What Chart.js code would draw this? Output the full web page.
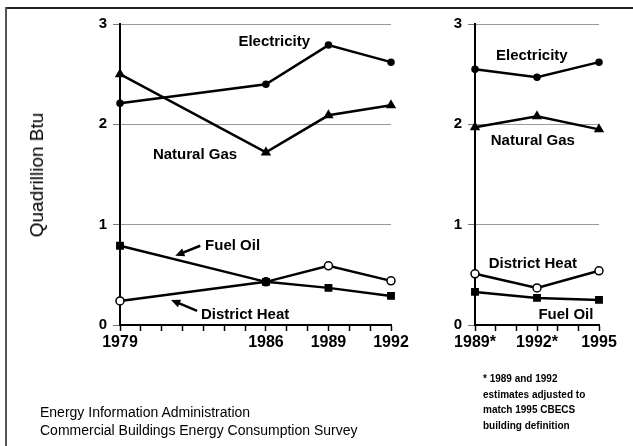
<!DOCTYPE html>
<html>
<head>
<meta charset="utf-8">
<script src="https://cdn.jsdelivr.net/npm/chart.js@4.4.1/dist/chart.umd.min.js"></script>
<style>
  body { margin:0; background:#fff; font-family:"Liberation Sans", Arial, sans-serif; }
  #page { position:relative; width:633px; height:446px; overflow:hidden; background:#fff; }
  .cv { position:absolute; left:0; top:0; }
  #frameTop { position:absolute; left:5px; top:7px; width:628px; height:0; border-top:2px solid #222; }
  #frameLeft { position:absolute; left:5px; top:7px; width:0; height:439px; border-left:2px solid #555; }
  #ytitle { position:absolute; left:37px; top:175px; transform:translate(-50%,-50%) rotate(-90deg); font-size:19px; white-space:nowrap; color:#000; }
  .foot { position:absolute; left:40px; font-size:14px; color:#000; white-space:nowrap; }
  #note { position:absolute; left:483px; top:371px; font-size:10px; line-height:15.5px; color:#000; font-weight:bold; }
</style>
</head>
<body>
<div id="page">
  <div id="frameTop"></div>
  <div id="frameLeft"></div>
  <canvas id="leftChart" class="cv" width="633" height="446"></canvas>
  <canvas id="rightChart" class="cv" width="633" height="446"></canvas>
  <div id="ytitle">Quadrillion Btu</div>
  <div class="foot" style="top:404px">Energy Information Administration</div>
  <div class="foot" style="top:422px">Commercial Buildings Energy Consumption Survey</div>
  <div id="note">* 1989 and 1992<br>estimates adjusted to<br>match 1995 CBECS<br>building definition</div>
</div>
<script>
// left panel: survey years
const leftYears = [1979, 1986, 1989, 1992];
const leftElectricity = [2.21, 2.40, 2.79, 2.62];
const leftNaturalGas = [2.50, 1.72, 2.09, 2.19];
const leftFuelOil = [0.79, 0.43, 0.37, 0.29];
const leftDistrictHeat = [0.24, 0.43, 0.59, 0.44];

// right panel: adjusted estimates
const rightYears = [1989, 1992, 1995];
const rightTickLabels = ["1989*", "1992*", "1995"];
const rightElectricity = [2.55, 2.47, 2.62];
const rightNaturalGas = [1.97, 2.08, 1.95];
const rightFuelOil = [0.33, 0.27, 0.25];
const rightDistrictHeat = [0.51, 0.37, 0.54];

const yTicks = [0, 1, 2, 3];

function pts(xs, ys) {
  return xs.map((x, i) => ({ x: x, y: ys[i] }));
}

function series(data, style, radius, fill) {
  return {
    data: data,
    borderColor: '#000',
    borderWidth: 2.5,
    pointStyle: style,
    pointRadius: radius,
    pointBackgroundColor: fill,
    pointBorderColor: '#000',
    pointBorderWidth: 1.5,
    tension: 0,
    clip: false
  };
}

// text labels and arrows, placed in data units
const labelPlugin = {
  id: 'labels',
  afterDatasetsDraw(chart, args, opts) {
    const c = chart.ctx;
    const xs = chart.scales.x, ys = chart.scales.y;
    c.save();
    c.fillStyle = '#000';
    c.font = 'bold 15px "Liberation Sans", Arial';
    c.textAlign = 'center';
    c.textBaseline = 'middle';
    opts.texts.forEach(t => {
      c.fillText(t.text, xs.getPixelForValue(t.x), ys.getPixelForValue(t.y));
    });
    c.strokeStyle = '#000';
    c.lineWidth = 2.5;
    (opts.arrows || []).forEach(a => {
      const x0 = xs.getPixelForValue(a.from[0]), y0 = ys.getPixelForValue(a.from[1]);
      const x1 = xs.getPixelForValue(a.to[0]), y1 = ys.getPixelForValue(a.to[1]);
      const ang = Math.atan2(y1 - y0, x1 - x0);
      c.beginPath();
      c.moveTo(x0, y0);
      c.lineTo(x1 - 5 * Math.cos(ang), y1 - 5 * Math.sin(ang));
      c.stroke();
      c.beginPath();
      c.moveTo(x1, y1);
      c.lineTo(x1 - 10 * Math.cos(ang - 0.42), y1 - 10 * Math.sin(ang - 0.42));
      c.lineTo(x1 - 10 * Math.cos(ang + 0.42), y1 - 10 * Math.sin(ang + 0.42));
      c.closePath();
      c.fill();
    });
    c.restore();
  }
};

function makeOptions(xMin, xMax, labelFn, yWidth, padRight, texts, arrows) {
  return {
    responsive: false,
    animation: false,
    layout: { padding: { left: 0, right: padRight, top: 24, bottom: 0 } },
    plugins: {
      legend: { display: false },
      tooltip: { enabled: false },
      labels: { texts: texts, arrows: arrows }
    },
    scales: {
      x: {
        type: 'linear',
        min: xMin,
        max: xMax,
        afterFit(s) { s.height = 121; },
        afterBuildTicks(s) {
          const t = [];
          for (let v = xMin; v <= xMax; v++) t.push({ value: v });
          s.ticks = t;
        },
        ticks: {
          autoSkip: false,
          maxRotation: 0,
          padding: 2,
          color: '#000',
          font: { family: '"Liberation Sans", Arial', size: 16, weight: 'bold' },
          callback: labelFn
        },
        grid: { drawOnChartArea: false, tickLength: 6, tickColor: '#000', tickWidth: 1.5 },
        border: { color: '#000', width: 2 }
      },
      y: {
        min: 0,
        max: 3,
        afterFit(s) { s.width = yWidth; },
        afterBuildTicks(s) { s.ticks = yTicks.map(v => ({ value: v })); },
        ticks: {
          padding: 6,
          color: '#000',
          font: { family: '"Liberation Sans", Arial', size: 15, weight: 'bold' }
        },
        grid: { color: '#9a9a9a', lineWidth: 1, tickLength: 7, tickColor: '#777' },
        border: { color: '#000', width: 2 }
      }
    }
  };
}

new Chart(document.getElementById('leftChart'), {
  type: 'line',
  data: {
    datasets: [
      series(pts(leftYears, leftElectricity), 'circle', 3, '#000'),
      series(pts(leftYears, leftNaturalGas), 'triangle', 4.5, '#000'),
      series(pts(leftYears, leftFuelOil), 'rect', 4.5, '#000'),
      series(pts(leftYears, leftDistrictHeat), 'circle', 4, '#fff')
    ]
  },
  options: makeOptions(1979, 1992,
    v => leftYears.includes(v) ? String(v) : '',
    120, 242,
    [
      { text: 'Electricity', x: 1986.4, y: 2.82 },
      { text: 'Natural Gas', x: 1982.6, y: 1.70 },
      { text: 'Fuel Oil', x: 1984.4, y: 0.79 },
      { text: 'District Heat', x: 1985.0, y: 0.10 }
    ],
    [
      { from: [1982.85, 0.79], to: [1981.65, 0.69] },
      { from: [1982.7, 0.14], to: [1981.45, 0.25] }
    ]),
  plugins: [labelPlugin]
});

new Chart(document.getElementById('rightChart'), {
  type: 'line',
  data: {
    datasets: [
      series(pts(rightYears, rightElectricity), 'circle', 3, '#000'),
      series(pts(rightYears, rightNaturalGas), 'triangle', 4.5, '#000'),
      series(pts(rightYears, rightFuelOil), 'rect', 4.5, '#000'),
      series(pts(rightYears, rightDistrictHeat), 'circle', 4, '#fff')
    ]
  },
  options: makeOptions(1989, 1995,
    v => { const i = rightYears.indexOf(v); return i >= 0 ? rightTickLabels[i] : ''; },
    475, 34,
    [
      { text: 'Electricity', x: 1991.75, y: 2.68 },
      { text: 'Natural Gas', x: 1991.8, y: 1.84 },
      { text: 'District Heat', x: 1991.8, y: 0.61 },
      { text: 'Fuel Oil', x: 1993.4, y: 0.10 }
    ],
    []),
  plugins: [labelPlugin]
});
</script>
</body>
</html>
